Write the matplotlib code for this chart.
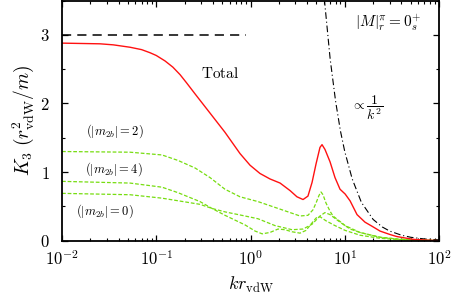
import numpy as np
import matplotlib
matplotlib.use("Agg")
import matplotlib.pyplot as plt
from matplotlib.ticker import FixedLocator, FixedFormatter, LogLocator, NullFormatter, MultipleLocator

plt.rcParams['mathtext.fontset'] = 'cm'
plt.rcParams['font.family'] = 'serif'

# total K3
x_tot = [0.01, 0.0253, 0.035, 0.0527, 0.07, 0.0859, 0.1, 0.124, 0.15, 0.179, 0.21, 0.258,
         0.372, 0.536, 0.774, 0.989, 1.26, 1.61, 2.06, 2.63, 3.11, 3.61, 4.07, 4.50, 4.96,
         5.46, 5.74, 6.17, 6.98, 7.88, 8.91, 10.1, 11.4, 13.5, 16.4, 19.5, 23.7, 30.2, 35.8,
         53, 71, 100]
y_tot = [2.88, 2.87, 2.855, 2.82, 2.785, 2.74, 2.70, 2.62, 2.53, 2.42, 2.30, 2.14,
         1.86, 1.58, 1.27, 1.10, 0.98, 0.90, 0.84, 0.73, 0.64, 0.60, 0.65, 0.85, 1.12,
         1.36, 1.40, 1.33, 1.15, 0.92, 0.75, 0.68, 0.58, 0.38, 0.27, 0.21, 0.14, 0.09, 0.06,
         0.02, 0.01, 0.0]

# |m2b| = 2
x_m2 = [0.01, 0.0527, 0.115, 0.170, 0.258, 0.372, 0.536, 0.774, 1.20, 2.06, 2.76, 3.35,
        4.07, 4.60, 4.96, 5.33, 5.60, 5.88, 6.32, 6.98, 7.50, 8.91, 10.1, 14.5, 23.7, 38.5, 100]
y_m2 = [1.30, 1.29, 1.25, 1.17, 1.06, 0.92, 0.75, 0.64, 0.57, 0.46, 0.40, 0.36,
        0.37, 0.45, 0.55, 0.66, 0.71, 0.67, 0.55, 0.43, 0.36, 0.28, 0.22, 0.12, 0.05, 0.02, 0.0]

# |m2b| = 4
x_m4 = [0.01, 0.0527, 0.115, 0.170, 0.291, 0.391, 0.536, 0.875, 1.12, 1.33, 1.61, 1.96,
        2.32, 2.76, 3.35, 3.88, 4.50, 4.96, 5.46, 6.32, 7.88, 10.1, 14.5, 23.7, 38.5, 100]
y_m4 = [0.865, 0.84, 0.78, 0.70, 0.57, 0.47, 0.37, 0.23, 0.14, 0.10, 0.12, 0.17,
        0.16, 0.13, 0.11, 0.15, 0.26, 0.33, 0.35, 0.29, 0.22, 0.15, 0.08, 0.035, 0.015, 0.0]

# |m2b| = 0
x_m0 = [0.01, 0.0527, 0.115, 0.291, 0.391, 0.536, 0.875, 1.20, 1.82, 2.76, 3.61, 4.50,
        5.46, 6.17, 6.98, 8.91, 11.4, 14.5, 23.7, 38.5, 100]
y_m0 = [0.69, 0.67, 0.62, 0.53, 0.47, 0.42, 0.36, 0.32, 0.22, 0.16, 0.17, 0.24,
        0.36, 0.41, 0.38, 0.27, 0.17, 0.12, 0.05, 0.02, 0.0]

# ~ 1/k^2 guide
x_inv = [6.0, 7, 8, 9, 10, 12, 15, 20, 25, 30, 40, 50, 70, 100]
y_inv = [3.6, 2.65, 2.03, 1.6, 1.3, 0.9, 0.56, 0.31, 0.2, 0.14, 0.08, 0.05, 0.025, 0.012]

# unitarity limit
x_lim = [0.01, 0.9]
y_lim = [3.0, 3.0]

fig = plt.figure(figsize=(4.57, 3.0), dpi=100)
ax = fig.add_axes([0.1357, 0.1977, 0.8249, 0.8003])

green = '#77dd11'
ax.plot(x_lim, y_lim, color='black', lw=1.1, dashes=(6, 4))
ax.plot(x_inv, y_inv, color='black', lw=0.8, dashes=(6, 2.5, 1, 2.5))
ax.plot(x_m2, y_m2, color=green, lw=0.9, dashes=(3, 1.5))
ax.plot(x_m4, y_m4, color=green, lw=0.9, dashes=(3, 1.5))
ax.plot(x_m0, y_m0, color=green, lw=0.9, dashes=(3, 1.5))
ax.plot(x_tot, y_tot, color='#ff1111', lw=1.0)

ax.set_xscale('log')
ax.set_xlim(0.01, 100)
ax.set_ylim(0, 3.5)

ax.xaxis.set_major_locator(FixedLocator([0.01, 0.1, 1, 10, 100]))
ax.xaxis.set_major_formatter(FixedFormatter([r'$10^{-2}$', r'$10^{-1}$', r'$10^{0}$', r'$10^{1}$', r'$10^{2}$']))
ax.xaxis.set_minor_locator(LogLocator(base=10, subs=np.arange(2, 10)))
ax.xaxis.set_minor_formatter(NullFormatter())
ax.yaxis.set_major_locator(FixedLocator([0, 1, 2, 3]))
ax.yaxis.set_major_formatter(FixedFormatter([r'$0$', r'$1$', r'$2$', r'$3$']))
ax.yaxis.set_minor_locator(MultipleLocator(0.5))

ax.tick_params(which='both', direction='in', top=True, right=True, labelsize=12)
ax.tick_params(axis='x', pad=7)
ax.tick_params(axis='y', pad=9)
ax.tick_params(which='major', length=4.5, width=0.9)
ax.tick_params(which='minor', length=2.5, width=0.8)
for s in ax.spines.values():
    s.set_linewidth(1.3)

ax.set_xlabel(r'$kr_{\rm vdW}$', fontsize=13, labelpad=4)
ax.set_ylabel(r'$K_3\ (r^2_{\rm vdW}/m)$', fontsize=14, labelpad=3)

ax.text(0.474, 2.44, r'$\mathrm{Total}$', fontsize=11, ha='center', va='center')
ax.text(0.0365, 1.59, r'$(|m_{2b}|=2)$', fontsize=9, ha='center', va='center')
ax.text(0.0356, 1.04, r'$(|m_{2b}|=4)$', fontsize=9, ha='center', va='center')
ax.text(0.0286, 0.43, r'$(|m_{2b}|=0)$', fontsize=9, ha='center', va='center')
ax.text(28.8, 3.17, r'$|M|^{\pi}_{r}=0^{+}_{s}$', fontsize=11, ha='center', va='center')
ax.text(17.2, 1.94, r'$\propto\dfrac{1}{k^2}$', fontsize=10, ha='center', va='center')

fig.savefig('out.png', dpi=100)
